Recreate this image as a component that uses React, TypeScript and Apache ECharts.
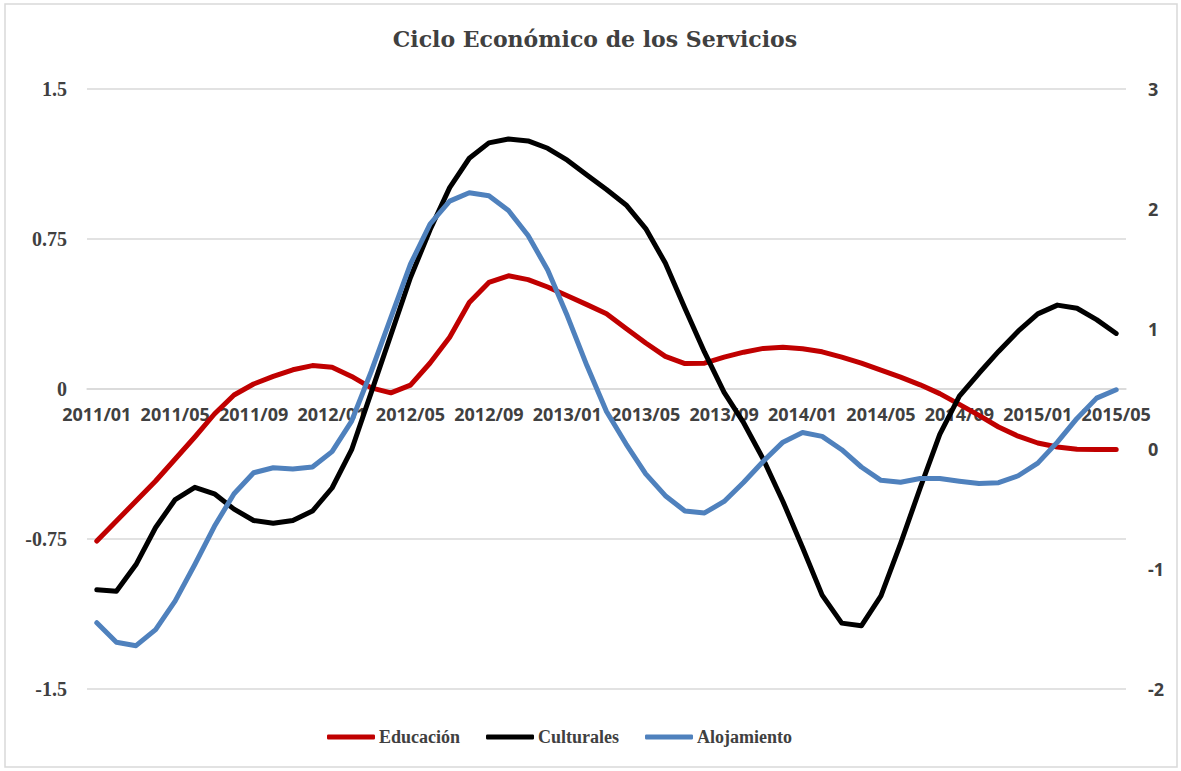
import React, { useEffect, useRef } from "react";
import * as echarts from "echarts";

const years = [2011, 2012, 2013, 2014, 2015];
const categories: string[] = [];
for (const y of years) {
  for (let m = 1; m <= 12; m++) {
    if (y === 2015 && m > 5) break;
    categories.push(`${y}/${m < 10 ? "0" + m : m}`);
  }
}

const educacion = [
  -0.76, -0.66, -0.56, -0.46, -0.35, -0.24, -0.125, -0.03, 0.025, 0.063, 0.096, 0.117, 0.109,
  0.063, 0.006, -0.019, 0.019, 0.13, 0.259, 0.432, 0.533, 0.566, 0.547, 0.51, 0.466, 0.422,
  0.376, 0.303, 0.23, 0.163, 0.127, 0.129, 0.159, 0.184, 0.203, 0.209, 0.201, 0.186, 0.159,
  0.129, 0.094, 0.059, 0.021, -0.023, -0.077, -0.132, -0.19, -0.236, -0.27, -0.29, -0.301,
  -0.302, -0.302,
];

const culturales = [
  -1.173, -1.186, -0.963, -0.654, -0.421, -0.319, -0.373, -0.501, -0.596, -0.619, -0.596,
  -0.517, -0.325, -0.006, 0.472, 0.95, 1.429, 1.827, 2.178, 2.423, 2.551, 2.583, 2.567, 2.506,
  2.407, 2.283, 2.162, 2.034, 1.837, 1.55, 1.173, 0.807, 0.472, 0.217, -0.086, -0.437, -0.82,
  -1.218, -1.451, -1.473, -1.224, -0.788, -0.325, 0.121, 0.44, 0.631, 0.813, 0.982, 1.126,
  1.199, 1.173, 1.078, 0.963,
];

const alojamiento = [
  -1.448, -1.61, -1.639, -1.505, -1.266, -0.963, -0.644, -0.373, -0.198, -0.156, -0.166, -0.15,
  -0.022, 0.233, 0.647, 1.094, 1.54, 1.875, 2.066, 2.136, 2.111, 1.987, 1.779, 1.492, 1.11,
  0.695, 0.312, 0.041, -0.207, -0.389, -0.517, -0.533, -0.437, -0.277, -0.102, 0.057, 0.137,
  0.105, -0.006, -0.15, -0.261, -0.277, -0.246, -0.246, -0.268, -0.287, -0.281, -0.223, -0.118,
  0.057, 0.255, 0.424, 0.494,
];

const TITLE = "Ciclo Económico de los Servicios";
const SERIF = "'Liberation Serif', 'Times New Roman', serif";
const SANS = "'Open Sans', 'Noto Sans', sans-serif";
const TEXT = "#404040";
const GRID = "#d9d9d9";

export default function App() {
  const ref = useRef<HTMLDivElement>(null);

  useEffect(() => {
    document.body.style.margin = "0";
    const chart = echarts.init(ref.current!, undefined, { renderer: "svg" });
    chart.setOption({
      animation: false,
      backgroundColor: "#ffffff",
      title: {
        text: TITLE,
        left: 595,
        textAlign: "center",
        top: 28,
        padding: 0,
        textStyle: {
          fontFamily: "'DejaVu Serif', serif",
          fontWeight: "bold",
          fontSize: 22,
          color: TEXT,
        },
      },
      graphic: [
        {
          type: "rect",
          shape: { x: 5, y: 4, width: 1172, height: 763 },
          style: { fill: "none", stroke: GRID, lineWidth: 1.5 },
          silent: true,
          z: -10,
        },
      ],
      legend: {
        left: 327,
        top: 728,
        padding: 0,
        icon: "roundRect",
        itemWidth: 48,
        itemHeight: 5,
        itemGap: 26,
        textStyle: {
          fontFamily: SERIF,
          fontWeight: "bold",
          fontSize: 18,
          color: TEXT,
          padding: [0, 0, 0, -1],
        },
        data: ["Educación", "Culturales", "Alojamiento"],
      },
      grid: { left: 87, right: 55, top: 89, bottom: 82, containLabel: false },
      xAxis: {
        type: "category",
        data: categories,
        boundaryGap: true,
        position: "bottom",
        offset: -300,
        axisLine: { show: true, onZero: false, lineStyle: { color: GRID, width: 1.5 } },
        axisTick: { show: false },
        axisLabel: {
          interval: 3,
          margin: 16,
          fontFamily: SANS,
          fontWeight: "bold",
          fontSize: 18,
          color: TEXT,
        },
        splitLine: { show: false },
      },
      yAxis: [
        {
          type: "value",
          min: -1.5,
          max: 1.5,
          interval: 0.75,
          position: "left",
          axisLine: { show: false },
          axisTick: { show: false },
          axisLabel: {
            margin: 20,
            fontFamily: SERIF,
            fontWeight: "bold",
            fontSize: 20,
            color: TEXT,
          },
          splitLine: { show: true, lineStyle: { color: GRID, width: 1.5 } },
        },
        {
          type: "value",
          min: -2,
          max: 3,
          interval: 1,
          position: "right",
          axisLine: { show: false },
          axisTick: { show: false },
          axisLabel: {
            margin: 22,
            fontFamily: SANS,
            fontWeight: "bold",
            fontSize: 18,
            color: TEXT,
          },
          splitLine: { show: false },
        },
      ],
      series: [
        {
          name: "Educación",
          type: "line",
          yAxisIndex: 0,
          data: educacion,
          showSymbol: false,
          symbol: "none",
          lineStyle: { color: "#C00000", width: 5, cap: "round", join: "round" },
          itemStyle: { color: "#C00000" },
        },
        {
          name: "Culturales",
          type: "line",
          yAxisIndex: 1,
          data: culturales,
          showSymbol: false,
          symbol: "none",
          lineStyle: { color: "#000000", width: 5, cap: "round", join: "round" },
          itemStyle: { color: "#000000" },
        },
        {
          name: "Alojamiento",
          type: "line",
          yAxisIndex: 1,
          data: alojamiento,
          showSymbol: false,
          symbol: "none",
          lineStyle: { color: "#4F81BD", width: 5, cap: "round", join: "round" },
          itemStyle: { color: "#4F81BD" },
        },
      ],
    });
    return () => chart.dispose();
  }, []);

  return <div ref={ref} style={{ width: 1181, height: 771 }} />;
}
